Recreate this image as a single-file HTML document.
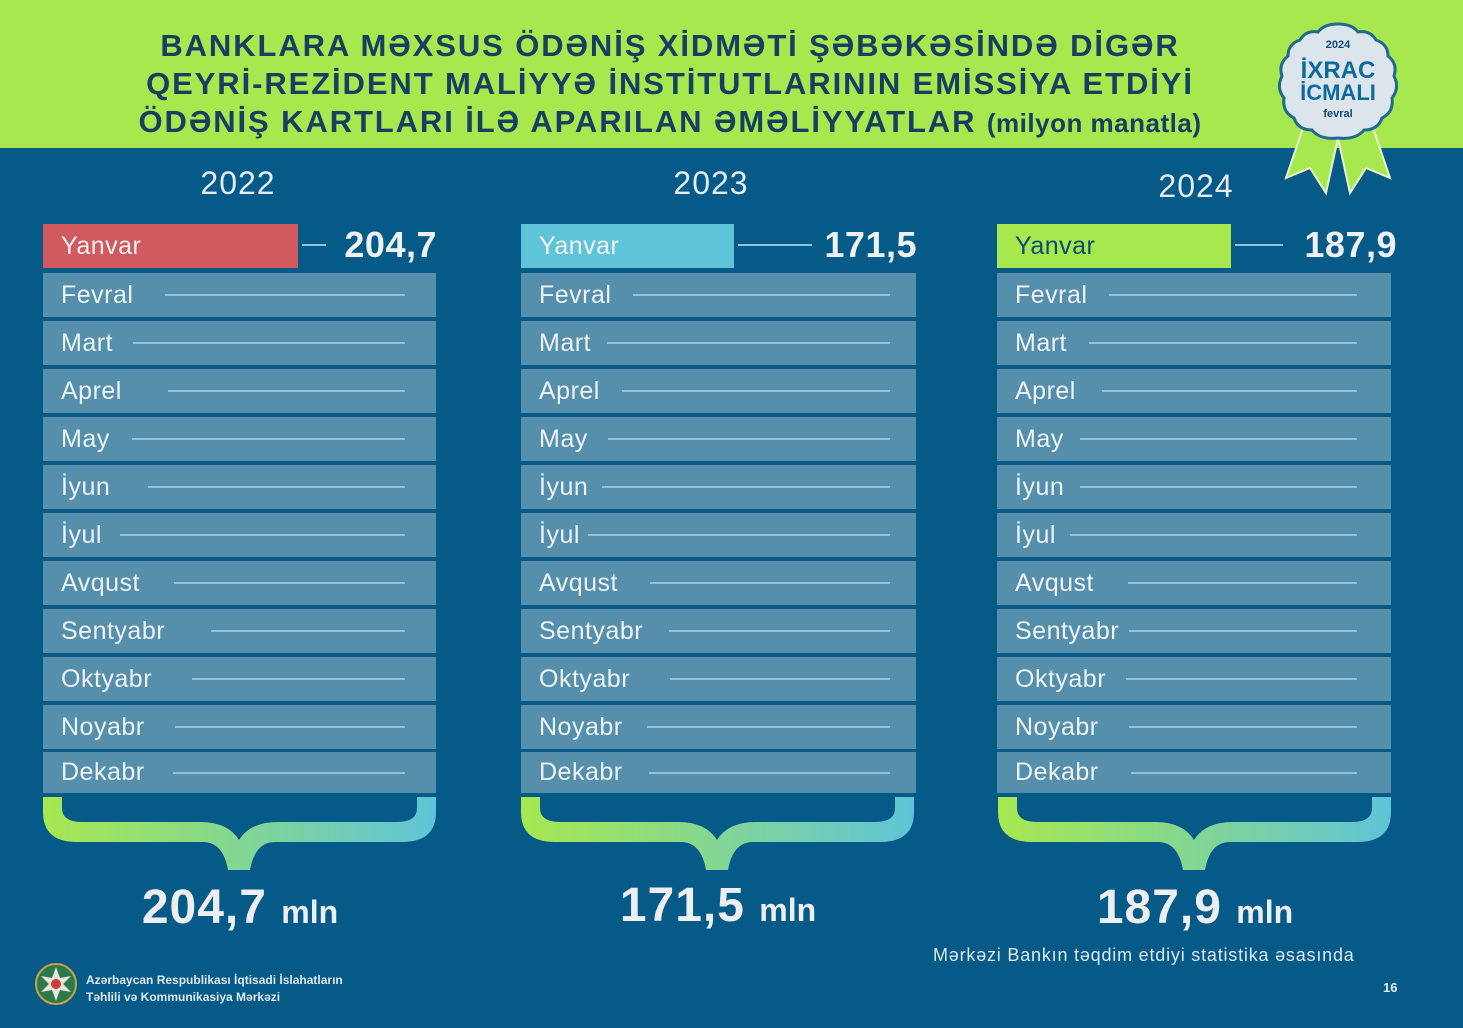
<!DOCTYPE html>
<html><head><meta charset="utf-8"><style>
*{margin:0;padding:0;box-sizing:border-box}
body{width:1463px;height:1028px;background:#055a87;font-family:"Liberation Sans",sans-serif;position:relative;overflow:hidden;color:#e9eef2}
.top{position:absolute;left:0;top:0;width:1463px;height:148px;background:#a7e84f}
.title{position:absolute;left:70px;width:1200px;text-align:center;color:#163f62;font-weight:bold;font-size:31px;letter-spacing:1.9px;line-height:38px;top:27px}
.title small{font-size:26px;letter-spacing:0.5px}
.yr{position:absolute;top:165px;font-size:32px;color:#e6edf2;width:200px;text-align:center;letter-spacing:1px}
.row{position:absolute;height:44px;background:#568fab;display:flex;align-items:center;padding-left:18px;font-size:25px;color:#eef3f6;letter-spacing:.5px}
.row i{flex:1;height:2px;background:#93c2d8;margin-left:16px;margin-right:31px}
.jan{position:absolute;top:224px;height:44px;display:flex;align-items:center;padding-left:18px;font-size:25px;color:#f2f4f6;letter-spacing:.5px}
.conn{position:absolute;top:244px;height:2px;background:#8ec0d8}
.val{position:absolute;top:224px;font-size:36px;font-weight:bold;color:#eef0f2;text-align:right;width:140px;line-height:42px;letter-spacing:0.5px}
.tot{position:absolute;top:880px;width:300px;text-align:center;font-weight:bold;font-size:48px;color:#eceef0;letter-spacing:1px}
.tot span{font-size:32px;letter-spacing:0}
</style></head><body>
<div class="top"></div>
<div class="title">BANKLARA MƏXSUS ÖDƏNİŞ XİDMƏTİ ŞƏBƏKƏSİNDƏ DİGƏR<br>QEYRİ-REZİDENT MALİYYƏ İNSTİTUTLARININ EMİSSİYA ETDİYİ<br>ÖDƏNİŞ KARTLARI İLƏ APARILAN ƏMƏLİYYATLAR <small>(milyon manatla)</small></div>

<svg style="position:absolute;left:1268px;top:18px" width="140" height="180" viewBox="0 0 140 180">
<polygon points="40,95 18,160 42,150 58,175 70,120" fill="#a7e84f" stroke="#e8f4d0" stroke-width="2"/>
<polygon points="100,95 122,160 98,150 82,175 70,120" fill="#a7e84f" stroke="#e8f4d0" stroke-width="2"/>
<path d="M70,6 q14,0 20,8 q12,-2 18,8 q12,4 12,16 q10,8 6,20 q6,12 -2,22 q2,14 -10,20 q-4,12 -18,12 q-8,10 -26,8 q-18,2 -26,-8 q-14,0 -18,-12 q-12,-6 -10,-20 q-8,-10 -2,-22 q-4,-12 6,-20 q0,-12 12,-16 q6,-10 18,-8 q6,-8 20,-8z" fill="#dde5ec" stroke="#1f6a8f" stroke-width="3"/>
<text x="70" y="30" text-anchor="middle" font-family="Liberation Sans" font-weight="bold" font-size="11" fill="#0e4a72">2024</text>
<text x="70" y="60" text-anchor="middle" font-family="Liberation Sans" font-weight="bold" font-size="24" fill="#0e6a9a">İXRAC</text>
<text x="70" y="82" text-anchor="middle" font-family="Liberation Sans" font-weight="bold" font-size="22" fill="#0e6a9a">İCMALI</text>
<text x="70" y="99" text-anchor="middle" font-family="Liberation Sans" font-weight="bold" font-size="11" fill="#0e4a72">fevral</text>
</svg>

<div class="yr" style="left:138px">2022</div>
<div class="yr" style="left:611px">2023</div>
<div class="yr" style="left:1096px;top:168px">2024</div>

<!-- Column 1 -->
<div class="jan" style="left:43px;width:255px;background:#d05a5e">Yanvar</div>
<div class="conn" style="left:302px;width:24px"></div>
<div class="val" style="left:297px">204,7</div>
<div class="row" style="left:43px;width:393px;top:273px">Fevral<i style="margin-left:32px"></i></div>
<div class="row" style="left:43px;width:393px;top:321px">Mart<i style="margin-left:20px"></i></div>
<div class="row" style="left:43px;width:393px;top:369px">Aprel<i style="margin-left:46px"></i></div>
<div class="row" style="left:43px;width:393px;top:417px">May<i style="margin-left:22px"></i></div>
<div class="row" style="left:43px;width:393px;top:465px">İyun<i style="margin-left:38px"></i></div>
<div class="row" style="left:43px;width:393px;top:513px">İyul<i style="margin-left:18px"></i></div>
<div class="row" style="left:43px;width:393px;top:561px">Avqust<i style="margin-left:34px"></i></div>
<div class="row" style="left:43px;width:393px;top:609px">Sentyabr<i style="margin-left:46px"></i></div>
<div class="row" style="left:43px;width:393px;top:657px">Oktyabr<i style="margin-left:40px"></i></div>
<div class="row" style="left:43px;width:393px;top:705px">Noyabr<i style="margin-left:30px"></i></div>
<div class="row" style="left:43px;width:393px;top:752px;height:41px">Dekabr<i style="margin-left:28px"></i></div>

<!-- Column 2 -->
<div class="jan" style="left:521px;width:213px;background:#5fc4d8">Yanvar</div>
<div class="conn" style="left:738px;width:74px"></div>
<div class="val" style="left:777px">171,5</div>
<div class="row" style="left:521px;width:395px;top:273px">Fevral<i style="margin-left:22px;margin-right:26px"></i></div>
<div class="row" style="left:521px;width:395px;top:321px">Mart<i style="margin-left:16px;margin-right:26px"></i></div>
<div class="row" style="left:521px;width:395px;top:369px">Aprel<i style="margin-left:22px;margin-right:26px"></i></div>
<div class="row" style="left:521px;width:395px;top:417px">May<i style="margin-left:20px;margin-right:26px"></i></div>
<div class="row" style="left:521px;width:395px;top:465px">İyun<i style="margin-left:14px;margin-right:26px"></i></div>
<div class="row" style="left:521px;width:395px;top:513px">İyul<i style="margin-left:8px;margin-right:26px"></i></div>
<div class="row" style="left:521px;width:395px;top:561px">Avqust<i style="margin-left:32px;margin-right:26px"></i></div>
<div class="row" style="left:521px;width:395px;top:609px">Sentyabr<i style="margin-left:26px;margin-right:26px"></i></div>
<div class="row" style="left:521px;width:395px;top:657px">Oktyabr<i style="margin-left:40px;margin-right:26px"></i></div>
<div class="row" style="left:521px;width:395px;top:705px">Noyabr<i style="margin-left:24px;margin-right:26px"></i></div>
<div class="row" style="left:521px;width:395px;top:752px;height:41px">Dekabr<i style="margin-left:26px;margin-right:26px"></i></div>

<!-- Column 3 -->
<div class="jan" style="left:997px;width:234px;background:#a7e84f;color:#0e4a72">Yanvar</div>
<div class="conn" style="left:1235px;width:48px"></div>
<div class="val" style="left:1257px">187,9</div>
<div class="row" style="left:997px;width:394px;top:273px">Fevral<i style="margin-left:22px;margin-right:34px"></i></div>
<div class="row" style="left:997px;width:394px;top:321px">Mart<i style="margin-left:22px;margin-right:34px"></i></div>
<div class="row" style="left:997px;width:394px;top:369px">Aprel<i style="margin-left:26px;margin-right:34px"></i></div>
<div class="row" style="left:997px;width:394px;top:417px">May<i style="margin-left:16px;margin-right:34px"></i></div>
<div class="row" style="left:997px;width:394px;top:465px">İyun<i style="margin-left:16px;margin-right:34px"></i></div>
<div class="row" style="left:997px;width:394px;top:513px">İyul<i style="margin-left:14px;margin-right:34px"></i></div>
<div class="row" style="left:997px;width:394px;top:561px">Avqust<i style="margin-left:34px;margin-right:34px"></i></div>
<div class="row" style="left:997px;width:394px;top:609px">Sentyabr<i style="margin-left:10px;margin-right:34px"></i></div>
<div class="row" style="left:997px;width:394px;top:657px">Oktyabr<i style="margin-left:20px;margin-right:34px"></i></div>
<div class="row" style="left:997px;width:394px;top:705px">Noyabr<i style="margin-left:30px;margin-right:34px"></i></div>
<div class="row" style="left:997px;width:394px;top:752px;height:41px">Dekabr<i style="margin-left:32px;margin-right:34px"></i></div>

<svg style="position:absolute;left:0;top:0" width="1463" height="1028">
<defs><linearGradient id="g" x1="0" x2="1" y1="0" y2="0"><stop offset="0" stop-color="#a7e84f"/><stop offset="1" stop-color="#5fc4d8"/></linearGradient></defs>
<g id="b" fill="url(#g)">
<path d="M43,797 L62,797 L62,808 Q62,822 82,822 L200,822 Q228,822 239,840 Q250,822 278,822 L397,822 Q417,822 417,808 L417,797 L436,797 L436,812 Q436,842 402,842 L275,842 Q255,842 250,870 L228,870 Q223,842 203,842 L77,842 Q43,842 43,812 Z"/>
</g>
<g fill="url(#g)" transform="translate(478,0)">
<path d="M43,797 L62,797 L62,808 Q62,822 82,822 L200,822 Q228,822 239,840 Q250,822 278,822 L397,822 Q417,822 417,808 L417,797 L436,797 L436,812 Q436,842 402,842 L275,842 Q255,842 250,870 L228,870 Q223,842 203,842 L77,842 Q43,842 43,812 Z"/>
</g>
<g fill="url(#g)" transform="translate(955,0)">
<path d="M43,797 L62,797 L62,808 Q62,822 82,822 L200,822 Q228,822 239,840 Q250,822 278,822 L397,822 Q417,822 417,808 L417,797 L436,797 L436,812 Q436,842 402,842 L275,842 Q255,842 250,870 L228,870 Q223,842 203,842 L77,842 Q43,842 43,812 Z"/>
</g>
</svg>

<div class="tot" style="left:90px">204,7 <span>mln</span></div>
<div class="tot" style="left:568px;top:878px">171,5 <span>mln</span></div>
<div class="tot" style="left:1045px">187,9 <span>mln</span></div>

<div style="position:absolute;left:933px;top:945px;font-size:18px;color:#dce8ef;letter-spacing:.8px">Mərkəzi Bankın təqdim etdiyi statistika əsasında</div>
<div style="position:absolute;left:1383px;top:980px;font-size:13px;font-weight:bold;color:#e6edf2">16</div>

<svg style="position:absolute;left:34px;top:962px" width="44" height="48" viewBox="0 0 44 48">
<circle cx="22" cy="22" r="20" fill="#2a7a4a" stroke="#c9a24a" stroke-width="2"/>
<polygon points="22,5 26,16 37,14 29,22 37,30 26,28 22,39 18,28 7,30 15,22 7,14 18,16" fill="#e9e6de"/>
<circle cx="22" cy="22" r="5" fill="#d23a3a"/>
</svg>
<div style="position:absolute;left:86px;top:972px;font-size:12px;font-weight:bold;color:#dfe8ee;line-height:17px">Azərbaycan Respublikası İqtisadi İslahatların<br>Təhlili və Kommunikasiya Mərkəzi</div>
</body></html>
